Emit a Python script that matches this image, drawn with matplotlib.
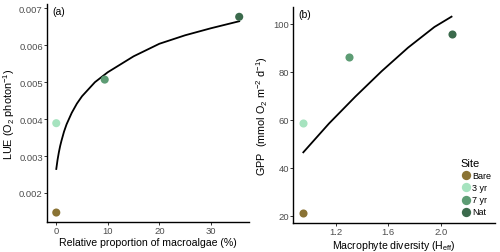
import matplotlib
matplotlib.use("Agg")
import matplotlib.pyplot as plt

plt.rcParams['font.family'] = ['Liberation Sans', 'DejaVu Sans']
plt.rcParams['mathtext.fontset'] = 'custom'
plt.rcParams['mathtext.rm'] = 'Liberation Sans'
plt.rcParams['mathtext.it'] = 'Liberation Sans'
plt.rcParams['mathtext.default'] = 'regular'

# --- data ---
sites = ['Bare', '3 yr', '7 yr', 'Nat']
site_colors = ['#8a7334', '#a6e3bf', '#5d9c74', '#3b6a4c']

# panel (a): LUE vs relative proportion of macroalgae
macro_pct = [0.0, 0.0, 9.4, 35.5]
lue = [0.00147, 0.00389, 0.00507, 0.00677]
fit_a_x = [0, 0.1, 0.25, 0.5, 0.75, 1, 1.5, 2, 3, 4, 5, 7.5, 10, 15, 20, 25, 30, 35.5]
fit_a_y = [0.00265, 0.00275, 0.00290, 0.00310, 0.00327, 0.00341, 0.00366,
           0.00386, 0.00417, 0.00442, 0.00462, 0.00500, 0.00527, 0.00570,
           0.00604, 0.00627, 0.00646, 0.00665]

# panel (b): GPP vs macrophyte diversity
h_eff = [0.955, 0.955, 1.30, 2.08]
gpp = [21.1, 58.8, 86.1, 95.8]
fit_b_x = [0.955, 1.15, 1.35, 1.55, 1.75, 1.95, 2.08]
fit_b_y = [46.4, 58.4, 69.6, 80.2, 90.0, 98.6, 102.9]

W, H = 500, 253
fig = plt.figure(figsize=(W / 100, H / 100), dpi=100)

def px_axes(l, t, r, b):
    return fig.add_axes([l / W, 1 - b / H, (r - l) / W, (b - t) / H])

ax1 = px_axes(47, 5, 249, 223)
ax2 = px_axes(293.3, 8.3, 495, 224)

def style(ax):
    for s in ['top', 'right']:
        ax.spines[s].set_visible(False)
    for s in ['left', 'bottom']:
        ax.spines[s].set_linewidth(1.0)
        ax.spines[s].set_color('black')
    ax.tick_params(colors='#333333', labelcolor='#4d4d4d', labelsize=6.8,
                   length=2, width=0.7, pad=1)

# (a)
ax1.plot(fit_a_x, fit_a_y, color='black', lw=1.3, zorder=2)
ax1.scatter(macro_pct, lue, c=site_colors, s=34, zorder=3, linewidths=0)
ax1.set_xlim(-1.8, 37.4)
ax1.set_ylim(0.001214, 0.007117)
ax1.set_xticks([0, 10, 20, 30])
ax1.set_yticks([0.002, 0.003, 0.004, 0.005, 0.006, 0.007])
ax1.set_yticklabels(['0.002', '0.003', '0.004', '0.005', '0.006', '0.007'])
ax1.set_xlabel('Relative proportion of macroalgae (%)', fontsize=7.6, labelpad=1)
ax1.set_ylabel('LUE (O$_2$ photon$^{-1}$)', fontsize=7.8, labelpad=1.5)
style(ax1)
ax1.text(0.025, 0.99, '(a)', transform=ax1.transAxes, fontsize=7.5,
         ha='left', va='top')

# (b)
ax2.plot(fit_b_x, fit_b_y, color='black', lw=1.3, zorder=2)
for x, y, c, lab in zip(h_eff, gpp, site_colors, sites):
    ax2.scatter([x], [y], color=c, s=34, zorder=3, linewidths=0, label=lab)
ax2.set_xlim(0.879, 2.41)
ax2.set_ylim(16.96, 106.8)
ax2.set_xticks([1.2, 1.6, 2.0])
ax2.set_yticks([20, 40, 60, 80, 100])
ax2.set_xlabel('Macrophyte diversity (H$_{eff}$)', fontsize=7.6, labelpad=1)
ax2.set_ylabel('GPP  (mmol O$_2$ m$^{-2}$ d$^{-1}$)', fontsize=7.8, labelpad=2.5)
style(ax2)
ax2.text(0.025, 0.99, '(b)', transform=ax2.transAxes, fontsize=7.5,
         ha='left', va='top')

leg = ax2.legend(title='Site', loc='upper left',
                 bbox_to_anchor=(456 / W, 1 - 154 / H),
                 bbox_transform=fig.transFigure, frameon=False,
                 fontsize=6.5, title_fontsize=8, handletextpad=0.1,
                 labelspacing=0.35, borderpad=0, handlelength=1.2,
                 markerscale=1.15)
leg._legend_box.align = 'left'

fig.savefig('out.png', dpi=100)
